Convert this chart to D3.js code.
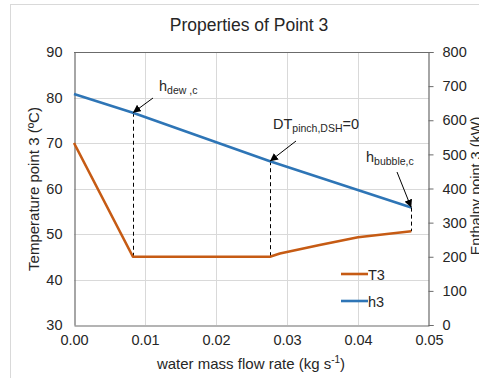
<!DOCTYPE html>
<html>
<head>
<meta charset="utf-8">
<script src="https://cdn.jsdelivr.net/npm/d3@7"></script>
<style>
  html, body { margin: 0; padding: 0; background: #fff; }
  svg { display: block; font-family: "Liberation Sans", Arial, sans-serif; }
</style>
</head>
<body>
<svg id="chart" width="479" height="378"></svg>
<script>
// Water mass flow rate (kg/s) and outlet temperature T3 (°C)
const t3Flow = [0.0, 0.0083, 0.0276, 0.029, 0.0346, 0.040, 0.0475];
const t3Temp = [70.0, 45.0, 45.0, 45.7, 47.6, 49.3, 50.6];
// Enthalpy h3 (kW) along the same flow range
const h3Flow = [0.0, 0.0083, 0.0276, 0.0475];
const h3Enth = [677, 622, 480, 344];
// Flow rates of the marked state points
const markFlow = [0.0083, 0.0276, 0.0475];

const xTicks = [0.00, 0.01, 0.02, 0.03, 0.04, 0.05];
const yLeftTicks = [30, 40, 50, 60, 70, 80, 90];
const yRightTicks = [0, 100, 200, 300, 400, 500, 600, 700, 800];

const svg = d3.select("#chart");
const m = { left: 74, right: 429, top: 52, bottom: 325 };

const x = d3.scaleLinear().domain([0, 0.05]).range([m.left, m.right]);
const yL = d3.scaleLinear().domain([30, 90]).range([m.bottom, m.top]);
const yR = d3.scaleLinear().domain([0, 800]).range([m.bottom, m.top]);

const orange = "#C65B14";
const blue = "#2E75B6";
const axisCol = "#6b6b6b";
const gridCol = "#d9d9d9";
const textCol = "#262626";

// outer chart frame
svg.append("rect").attr("x", 10.5).attr("y", 4.5).attr("width", 480).attr("height", 400)
  .attr("fill", "none").attr("stroke", "#d9d9d9");

// title
svg.append("text").attr("x", 249).attr("y", 31).attr("text-anchor", "middle")
  .attr("font-size", 17.5).attr("fill", textCol).text("Properties of Point 3");

// gridlines
const g = svg.append("g");
g.selectAll(".gy").data(yLeftTicks.slice(1, -1)).join("line")
  .attr("x1", m.left).attr("x2", m.right)
  .attr("y1", d => Math.round(yL(d)) + 0.5).attr("y2", d => Math.round(yL(d)) + 0.5)
  .attr("stroke", gridCol);
g.selectAll(".gx").data(xTicks.slice(1, -1)).join("line")
  .attr("y1", m.top).attr("y2", m.bottom)
  .attr("x1", d => Math.round(x(d)) + 0.5).attr("x2", d => Math.round(x(d)) + 0.5)
  .attr("stroke", gridCol);

// top frame line
svg.append("line").attr("x1", m.left).attr("x2", m.right).attr("y1", m.top + 0.5).attr("y2", m.top + 0.5).attr("stroke", axisCol);

// axes
const axisFont = 14.5;
const xAxis = svg.append("g").attr("transform", `translate(0,${m.bottom + 0.5})`)
  .call(d3.axisBottom(x).tickValues(xTicks).tickFormat(d3.format(".2f")).tickSize(0).tickPadding(9));
const yAxisL = svg.append("g").attr("transform", `translate(${m.left + 0.5},0)`)
  .call(d3.axisLeft(yL).tickValues(yLeftTicks).tickSize(0).tickPadding(12));
const yAxisR = svg.append("g").attr("transform", `translate(${m.right - 0.5},0)`)
  .call(d3.axisRight(yR).tickValues(yRightTicks).tickSize(5).tickPadding(9));
[xAxis, yAxisL, yAxisR].forEach(a => {
  a.attr("font-size", axisFont).attr("font-family", "Liberation Sans, Arial, sans-serif");
  a.select(".domain").attr("stroke", axisCol).attr("stroke-width", 1.2);
  a.selectAll(".tick line").attr("stroke", axisCol);
  a.selectAll("text").attr("fill", textCol);
});

// axis titles
svg.append("text").attr("transform", "translate(38.5,189) rotate(-90)")
  .attr("text-anchor", "middle").attr("font-size", 15).attr("fill", textCol)
  .text("Temperature point 3 (ºC)");
svg.append("text").attr("transform", "translate(481,186) rotate(-90)")
  .attr("text-anchor", "middle").attr("font-size", 14.5).attr("fill", textCol)
  .text("Enthalpy point 3 (kW)");
const xt = svg.append("text").attr("x", 251).attr("y", 369).attr("text-anchor", "middle")
  .attr("font-size", 15).attr("fill", textCol);
xt.append("tspan").text("water mass flow rate (kg s");
xt.append("tspan").attr("dy", -6).attr("font-size", 10).text("-1");
xt.append("tspan").attr("dy", 6).text(")");

// dashed drop lines between the two curves
const hAt = d3.scaleLinear().domain(h3Flow).range(h3Enth);
const tAt = d3.scaleLinear().domain(t3Flow).range(t3Temp);
svg.selectAll(".drop").data(markFlow).join("line")
  .attr("x1", d => Math.round(x(d)) + 0.5).attr("x2", d => Math.round(x(d)) + 0.5)
  .attr("y1", d => yR(hAt(d))).attr("y2", d => yL(tAt(d)))
  .attr("stroke", "#000").attr("stroke-width", 1).attr("stroke-dasharray", "4,3");

// series lines
const lineT = d3.line().x((d, i) => x(t3Flow[i])).y(d => yL(d));
const lineH = d3.line().x((d, i) => x(h3Flow[i])).y(d => yR(d));
svg.append("path").attr("d", lineT(t3Temp)).attr("fill", "none")
  .attr("stroke", orange).attr("stroke-width", 2.6).attr("stroke-linejoin", "round");
svg.append("path").attr("d", lineH(h3Enth)).attr("fill", "none")
  .attr("stroke", blue).attr("stroke-width", 2.6).attr("stroke-linejoin", "round");

// arrowhead
svg.append("defs").append("marker").attr("id", "arr")
  .attr("viewBox", "0 0 10 10").attr("refX", 10).attr("refY", 5)
  .attr("markerWidth", 8).attr("markerHeight", 8).attr("markerUnits", "userSpaceOnUse")
  .attr("orient", "auto")
  .append("path").attr("d", "M0,0 L10,5 L0,10 z").attr("fill", "#000");

const arrowFrom = [[153, 98], [296, 141], [397, 172]];
svg.selectAll(".arrow").data(markFlow).join("line")
  .attr("x1", (d, i) => arrowFrom[i][0]).attr("y1", (d, i) => arrowFrom[i][1])
  .attr("x2", d => x(d)).attr("y2", d => yR(hAt(d)))
  .attr("stroke", "#000").attr("stroke-width", 1).attr("marker-end", "url(#arr)");

// annotation labels
function label(px, py, main, sub, tail) {
  const t = svg.append("text").attr("x", px).attr("y", py).attr("font-size", 14.5).attr("fill", textCol);
  t.append("tspan").text(main);
  t.append("tspan").attr("dy", 3).attr("font-size", 10.5).text(sub);
  if (tail) t.append("tspan").attr("dy", -3).text(tail);
}
label(159, 91, "h", "dew ,c");
label(273, 129, "DT", "pinch,DSH", "=0");
label(366, 162, "h", "bubble,c");

// legend
const legend = svg.append("g");
const items = [{ name: "T3", color: orange, y: 274 }, { name: "h3", color: blue, y: 301 }];
items.forEach(it => {
  legend.append("line").attr("x1", 341).attr("x2", 368).attr("y1", it.y).attr("y2", it.y)
    .attr("stroke", it.color).attr("stroke-width", 2.6);
  legend.append("text").attr("x", 368).attr("y", it.y + 5.5).attr("font-size", 14.5)
    .attr("fill", textCol).text(it.name);
});
</script>
</body>
</html>
